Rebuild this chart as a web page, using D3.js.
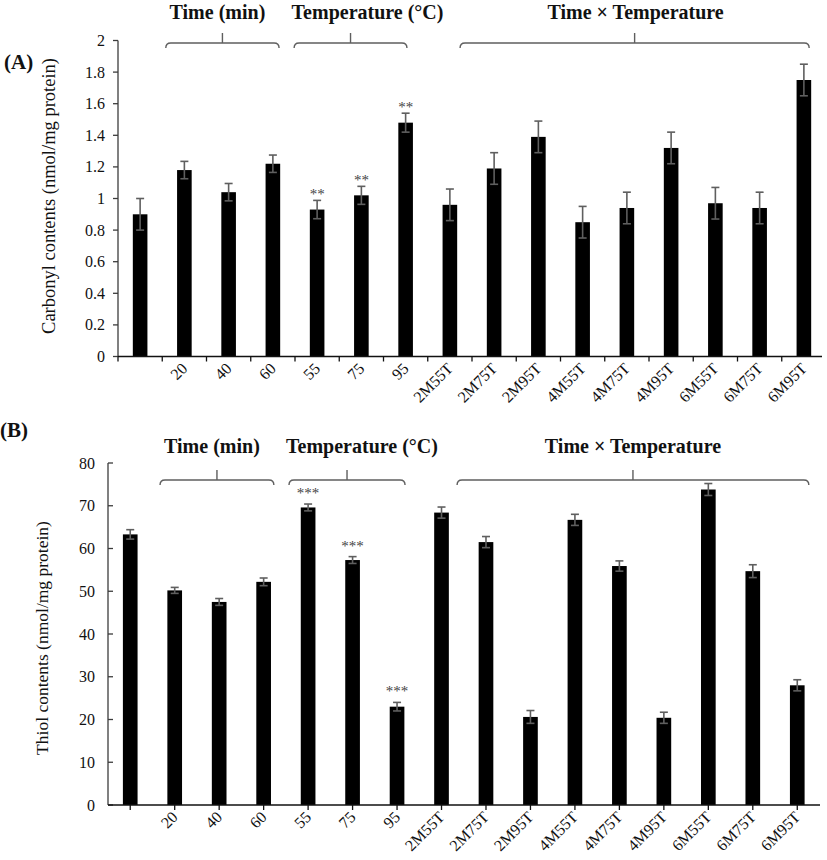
<!DOCTYPE html>
<html>
<head>
<meta charset="utf-8">
<script src="https://cdn.jsdelivr.net/npm/d3@7"></script>
<style>
  html, body { margin: 0; padding: 0; background: #fff; }
  svg { display: block; }
  text { font-family: "Liberation Serif", "Times New Roman", serif; }
</style>
</head>
<body>
<svg id="chart" width="827" height="860"></svg>
<script>
// ---------- data ----------
const categories = ["", "20", "40", "60", "55", "75", "95", "2M55T", "2M75T", "2M95T",
                    "4M55T", "4M75T", "4M95T", "6M55T", "6M75T", "6M95T"];

const carbonyl    = [0.90, 1.18, 1.04, 1.22, 0.93, 1.02, 1.48, 0.96, 1.19, 1.39, 0.85, 0.94, 1.32, 0.97, 0.94, 1.75];
const carbonylErr = [0.10, 0.055, 0.055, 0.055, 0.058, 0.057, 0.06, 0.10, 0.10, 0.10, 0.10, 0.10, 0.10, 0.10, 0.10, 0.10];
const carbonylSig = ["", "", "", "", "**", "**", "**", "", "", "", "", "", "", "", "", ""];
const carbonylTicks = [0, 0.2, 0.4, 0.6, 0.8, 1, 1.2, 1.4, 1.6, 1.8, 2];

const thiol    = [63.3, 50.2, 47.5, 52.2, 69.6, 57.3, 23.0, 68.4, 61.5, 20.6, 66.7, 55.9, 20.4, 73.8, 54.7, 28.0];
const thiolErr = [1.1, 0.7, 0.8, 0.9, 0.8, 0.8, 1.0, 1.3, 1.3, 1.5, 1.3, 1.2, 1.3, 1.4, 1.5, 1.3];
const thiolSig = ["", "", "", "", "***", "***", "***", "", "", "", "", "", "", "", "", ""];
const thiolTicks = [0, 10, 20, 30, 40, 50, 60, 70, 80];

// group brackets: [label, start index, end index, title shift] in band units
const groupsA = [["Time (min)", 1.08, 3.64, -5], ["Temperature (°C)", 3.98, 6.53, 17], ["Time × Temperature", 7.73, 15.62, 1]];
const groupsB = [["Time (min)", 1.17, 3.73, -5], ["Temperature (°C)", 4.07, 6.68, 15], ["Time × Temperature", 7.85, 15.76, 0]];

const svg = d3.select("#chart");
const AXIS = "#3c3c3c", ERR = "#5f5f5f";

function panel(cfg) {
  const g = svg.append("g");
  const x = d3.scaleBand().domain(categories).range([cfg.x0, cfg.x1]).paddingInner(0).paddingOuter(0);
  const idx = d3.scaleLinear().domain([0, categories.length]).range([cfg.x0, cfg.x1]);
  const y = d3.scaleLinear().domain([0, cfg.max]).range([cfg.y0, cfg.yTop]);
  const bw = x.bandwidth() * 0.33;

  // bars
  g.selectAll("rect.bar").data(cfg.values).enter().append("rect")
    .attr("x", (d, i) => x(categories[i]) + x.bandwidth() / 2 - bw / 2)
    .attr("y", d => y(d))
    .attr("width", bw)
    .attr("height", d => y(0) - y(d))
    .attr("fill", "#000");

  // error bars
  cfg.values.forEach((v, i) => {
    const cx = x(categories[i]) + x.bandwidth() / 2;
    const e = cfg.err[i];
    g.append("line").attr("x1", cx).attr("x2", cx).attr("y1", y(v + e)).attr("y2", y(v - e))
      .attr("stroke", ERR).attr("stroke-width", 1.6);
    [v + e, v - e].forEach(t => {
      g.append("line").attr("x1", cx - 4).attr("x2", cx + 4).attr("y1", y(t)).attr("y2", y(t))
        .attr("stroke", ERR).attr("stroke-width", 1.6);
    });
    if (cfg.sig[i]) {
      g.append("text").attr("x", cx).attr("y", y(v + e) + cfg.sigDy)
        .attr("text-anchor", "middle").attr("font-size", 15).attr("fill", "#444")
        .text(cfg.sig[i]);
    }
  });

  // y axis
  g.append("line").attr("x1", cfg.x0).attr("x2", cfg.x0).attr("y1", y(0)).attr("y2", y(cfg.max))
    .attr("stroke", AXIS).attr("stroke-width", 1.3);
  cfg.ticks.forEach(t => {
    g.append("line").attr("x1", cfg.x0 + cfg.yTickDir * 5).attr("x2", cfg.x0).attr("y1", y(t)).attr("y2", y(t))
      .attr("stroke", AXIS).attr("stroke-width", 1.3);
    g.append("text").attr("x", cfg.yLabelX).attr("y", y(t) + 5.5)
      .attr("text-anchor", "end").attr("font-size", 16).attr("fill", "#111")
      .text(String(Math.round(t * 10) / 10));
  });

  // x axis
  g.append("line").attr("x1", cfg.x0).attr("x2", cfg.axisEnd).attr("y1", y(0)).attr("y2", y(0))
    .attr("stroke", "#111").attr("stroke-width", 1.5);
  const tickPos = cfg.ticksBetween
    ? d3.range(0, categories.length).map(i => idx(i))
    : categories.map(c => x(c) + x.bandwidth() / 2);
  tickPos.forEach(p => {
    g.append("line").attr("x1", p).attr("x2", p).attr("y1", y(0)).attr("y2", y(0) + 5)
      .attr("stroke", "#111").attr("stroke-width", 1.3);
  });
  categories.forEach(c => {
    const cx = x(c) + x.bandwidth() / 2 + 4;
    const cy = y(0) + 13;
    g.append("text").attr("transform", `translate(${cx},${cy}) rotate(-45)`)
      .attr("text-anchor", "end").attr("font-size", 16).attr("fill", "#111").text(c);
  });

  // axis title
  g.append("text").attr("transform", `translate(${cfg.titleX},${cfg.titleY}) rotate(-90)`)
    .attr("text-anchor", "middle").attr("font-size", cfg.titleSize).attr("fill", "#111").text(cfg.title);

  // panel letter
  g.append("text").attr("x", cfg.letterX).attr("y", cfg.letterY).attr("font-size", 21)
    .attr("font-weight", "bold").attr("fill", "#111").text(cfg.letter);

  // group brackets
  cfg.groups.forEach(([label, a, b, dx]) => {
    const xa = idx(a), xb = idx(b), xc = (xa + xb) / 2, by = cfg.bracketY;
    const p = `M${xa},${by + 5} Q${xa},${by} ${xa + 5},${by} L${xb - 5},${by} Q${xb},${by} ${xb},${by + 5}` +
              ` M${xc},${by} L${xc},${by - 10}`;
    g.append("path").attr("d", p).attr("fill", "none").attr("stroke", ERR).attr("stroke-width", 1.4);
    g.append("text").attr("x", xc + dx).attr("y", cfg.groupTitleY).attr("text-anchor", "middle")
      .attr("font-size", 20).attr("font-weight", "bold").attr("fill", "#111").text(label);
  });
}

panel({
  x0: 118, x1: 826, axisEnd: 822, y0: 356.5, yTop: 40.5, max: 2,
  values: carbonyl, err: carbonylErr, sig: carbonylSig, sigDy: -1, ticks: carbonylTicks,
  yTickDir: -1, yLabelX: 105, ticksBetween: true,
  title: "Carbonyl contents (nmol/mg protein)", titleX: 55, titleY: 196, titleSize: 18.5,
  letter: "(A)", letterX: 4, letterY: 69,
  groups: groupsA, bracketY: 43, groupTitleY: 19
});

panel({
  x0: 108, x1: 819.5, axisEnd: 820, y0: 805, yTop: 463, max: 80,
  values: thiol, err: thiolErr, sig: thiolSig, sigDy: -6, ticks: thiolTicks,
  yTickDir: 1, yLabelX: 95, ticksBetween: false,
  title: "Thiol contents (nmol/mg protein)", titleX: 48, titleY: 638, titleSize: 17.5,
  letter: "(B)", letterX: 0, letterY: 437,
  groups: groupsB, bracketY: 480, groupTitleY: 453
});
</script>
</body>
</html>
